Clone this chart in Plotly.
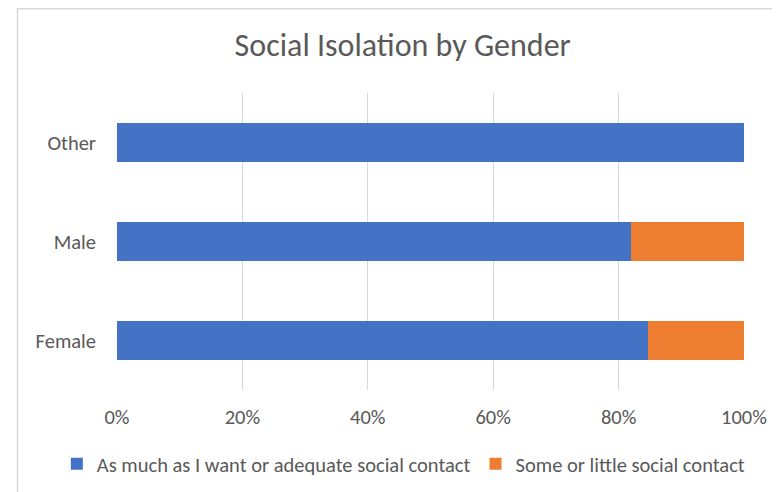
import plotly.graph_objects as go

# Data (percent of respondents)
genders = ["Female", "Male", "Other"]
adequate = [84.7, 82.0, 100.0]
little = [15.3, 18.0, 0.0]
tick_vals = [0, 20, 40, 60, 80, 100]
tick_text = ["0%", "20%", "40%", "60%", "80%", "100%"]

FONT = "Calibri, Carlito, Lato, 'Open Sans', sans-serif"
GREY = "#595959"

fig = go.Figure()

fig.add_trace(
    go.Bar(
        y=genders,
        x=adequate,
        orientation="h",
        name="As much as I want or adequate social contact",
        marker=dict(color="#4472C4", line=dict(width=0)),
    )
)
fig.add_trace(
    go.Bar(
        y=genders,
        x=little,
        orientation="h",
        name="Some or little social contact",
        marker=dict(color="#ED7D31", line=dict(width=0)),
    )
)

fig.update_layout(
    width=780,
    height=492,
    barmode="stack",
    bargap=0.6,
    plot_bgcolor="white",
    paper_bgcolor="white",
    # page body adds 8px, margins account for it
    margin=dict(l=109, r=44, t=85, b=110),
    font=dict(family=FONT, color=GREY, size=20.5),
    title=dict(
        text="Social Isolation by Gender",
        x=0.506,
        y=0.925,
        xanchor="center",
        yanchor="middle",
        font=dict(size=32, color=GREY, family=FONT),
    ),
    xaxis=dict(
        range=[0, 100],
        tickvals=tick_vals,
        ticktext=tick_text,
        showgrid=True,
        gridcolor="#d9d9d9",
        gridwidth=1,
        zeroline=False,
        showline=False,
        ticks="",
        ticklabelstandoff=12,
        tickfont=dict(size=20.5, color=GREY),
    ),
    yaxis=dict(
        showgrid=False,
        zeroline=False,
        showline=False,
        ticks="",
        ticklabelstandoff=20,
        tickfont=dict(size=20.5, color=GREY),
    ),
    # x < 0 with left anchor lets the legend use the full width on one row
    legend=dict(
        orientation="h",
        xref="paper",
        yref="paper",
        x=-0.096,
        y=-0.249,
        xanchor="left",
        yanchor="middle",
        font=dict(size=20.5, color=GREY),
        traceorder="normal",
        itemwidth=30,
    ),
    # chart-area border (right and bottom edges fall outside the picture)
    shapes=[
        dict(
            type="rect",
            xref="paper",
            yref="paper",
            x0=-0.1587,
            x1=1.08,
            y0=-0.4,
            y1=1.2837,
            line=dict(color="#d9d9d9", width=1.5),
            fillcolor="rgba(0,0,0,0)",
            layer="below",
        )
    ],
)

fig.write_html("out.html")
